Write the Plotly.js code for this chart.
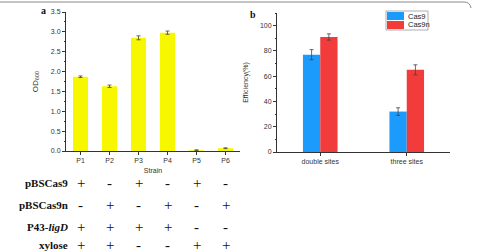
<!DOCTYPE html>
<html>
<head>
<meta charset="utf-8">
<script src="https://cdn.plot.ly/plotly-3.0.1.min.js"></script>
<style>
  html, body { margin: 0; padding: 0; background: #fff; }
  #chart { width: 477px; height: 252px; }
</style>
</head>
<body>
<div id="chart"></div>
<script>
// Panel a: growth (OD600) of each strain
const strains = ['P1', 'P2', 'P3', 'P4', 'P5', 'P6'];
const od600 = [1.87, 1.63, 2.85, 2.98, 0.02, 0.07];
const od600Err = [0.02, 0.03, 0.05, 0.04, 0.01, 0.01];

// Panel b: editing efficiency by target count
const sites = ['double sites', 'three sites'];
const cas9Eff = [77, 32];
const cas9Err = [4, 3];
const cas9nEff = [91, 65];
const cas9nErr = [2.5, 4];

// Construct table under panel a
const rowLabels = ['pBSCas9', 'pBSCas9n', 'P43-<i>ligD</i>', 'xylose'];
const rowSigns = [
  ['+', '-', '+', '-', '+', '-'],
  ['-', '+', '-', '+', '-', '+'],
  ['+', '+', '+', '+', '-', '-'],
  ['+', '+', '-', '-', '+', '+']
];

const W = 477, H = 252;
const px = x => x / W;
const py = y => 1 - y / H;

const axisFont = { family: 'Arial, Liberation Sans, sans-serif', size: 7, color: '#333' };
const errStyle = { type: 'data', visible: true, color: '#444', thickness: 0.8, width: 2 };

const traces = [
  {
    type: 'bar', x: strains, y: od600, xaxis: 'x', yaxis: 'y',
    width: 0.52, marker: { color: '#F7F700' },
    error_y: Object.assign({ array: od600Err }, errStyle),
    showlegend: false, name: 'OD600'
  },
  {
    type: 'bar', x: sites, y: cas9Eff, xaxis: 'x2', yaxis: 'y2', name: 'Cas9',
    marker: { color: '#1B9CFC' },
    error_y: Object.assign({ array: cas9Err }, errStyle),
    showlegend: false
  },
  {
    type: 'bar', x: sites, y: cas9nEff, xaxis: 'x2', yaxis: 'y2', name: 'Cas9n',
    marker: { color: '#F23B3B' },
    error_y: Object.assign({ array: cas9nErr }, errStyle),
    showlegend: false
  }
];

const annotations = [];
const shapes = [];

// panel letters
annotations.push({ xref: 'paper', yref: 'paper', x: px(43), y: py(11), text: '<b>a</b>',
  showarrow: false, xanchor: 'center', yanchor: 'middle',
  font: { family: 'Liberation Serif, Times New Roman, serif', size: 10, color: '#111' } });
annotations.push({ xref: 'paper', yref: 'paper', x: px(253), y: py(14), text: '<b>b</b>',
  showarrow: false, xanchor: 'center', yanchor: 'middle',
  font: { family: 'Liberation Serif, Times New Roman, serif', size: 10, color: '#111' } });

// construct table rows
const rowY = [183, 205, 226.5, 245];
rowLabels.forEach((lab, i) => {
  annotations.push({ xref: 'paper', yref: 'paper', x: px(70), y: py(rowY[i]), text: '<b>' + lab + '</b>',
    showarrow: false, xanchor: 'right', yanchor: 'middle',
    font: { family: 'Liberation Serif, Times New Roman, serif', size: 11, color: '#111' } });
  rowSigns[i].forEach((s, j) => {
    annotations.push({ xref: 'x', yref: 'paper', x: strains[j], y: py(rowY[i]), text: s,
      showarrow: false, xanchor: 'center', yanchor: 'middle',
      font: { family: 'Liberation Serif, Times New Roman, serif', size: 15, color: '#111' } });
  });
});

// legend box for panel b
shapes.push({ type: 'rect', xref: 'paper', yref: 'paper', x0: px(386), x1: px(428), y0: py(11), y1: py(30),
  line: { color: '#999', width: 0.8 }, fillcolor: 'rgba(0,0,0,0)' });
[traces[1], traces[2]].forEach((t, k) => {
  const top = 12 + k * 9;
  shapes.push({ type: 'rect', xref: 'paper', yref: 'paper', x0: px(387), x1: px(404), y0: py(top), y1: py(top + 8),
    line: { width: 0 }, fillcolor: t.marker.color });
  annotations.push({ xref: 'paper', yref: 'paper', x: px(405.5), y: py(top + 4), text: t.name,
    showarrow: false, xanchor: 'left', yanchor: 'middle',
    font: { family: 'Arial, Liberation Sans, sans-serif', size: 7.5, color: '#222' } });
});

// frame line across the top
shapes.push({ type: 'path', xref: 'paper', yref: 'paper',
  path: 'M ' + px(0) + ' ' + py(2) + ' L ' + px(464) + ' ' + py(2) + ' Q ' + px(470) + ' ' + py(2) + ' ' + px(471) + ' ' + py(8),
  line: { color: '#8a8a8a', width: 1 } });

const layout = {
  width: W, height: H,
  margin: { l: 0, r: 0, t: 0, b: 0, pad: 0 },
  paper_bgcolor: '#fff', plot_bgcolor: '#fff',
  barmode: 'group', bargap: 0.6, bargroupgap: 0,
  showlegend: false,
  font: axisFont,
  xaxis: {
    domain: [px(66), px(240)], anchor: 'y', type: 'category', range: [-0.5, 5.5],
    showline: true, linecolor: '#333', linewidth: 1, ticks: 'outside', ticklen: 3, tickcolor: '#333',
    tickfont: axisFont, showgrid: false, zeroline: false, automargin: false,
    title: { text: 'Strain', font: axisFont, standoff: 4 }
  },
  yaxis: {
    domain: [py(151), py(12)], anchor: 'x', range: [0, 3.5], dtick: 0.5, tickformat: '.1f',
    showline: true, linecolor: '#333', linewidth: 1, ticks: 'outside', ticklen: 3, tickcolor: '#333',
    minor: { dtick: 0.25, ticks: 'outside', ticklen: 1.5, tickcolor: '#333' },
    tickfont: axisFont, showgrid: false, zeroline: false, automargin: false,
    title: { text: 'OD<sub>600</sub>', font: { family: 'Arial, Liberation Sans, sans-serif', size: 8, color: '#333' }, standoff: 11 }
  },
  xaxis2: {
    domain: [px(277), px(450)], anchor: 'y2', type: 'category', range: [-0.5, 1.5],
    showline: true, linecolor: '#333', linewidth: 1, ticks: 'outside', ticklen: 3, tickcolor: '#333',
    tickfont: axisFont, showgrid: false, zeroline: false, automargin: false
  },
  yaxis2: {
    domain: [py(152), py(13)], anchor: 'x2', range: [0, 110], dtick: 20,
    showline: true, linecolor: '#333', linewidth: 1, ticks: 'outside', ticklen: 3, tickcolor: '#333',
    minor: { dtick: 10, ticks: 'outside', ticklen: 1.5, tickcolor: '#333' },
    tickfont: axisFont, showgrid: false, zeroline: false, automargin: false,
    title: { text: 'Efficiency(%)', font: axisFont, standoff: 10 }
  },
  annotations: annotations,
  shapes: shapes
};

Plotly.newPlot('chart', traces, layout, { staticPlot: true, displayModeBar: false });
</script>
</body>
</html>
